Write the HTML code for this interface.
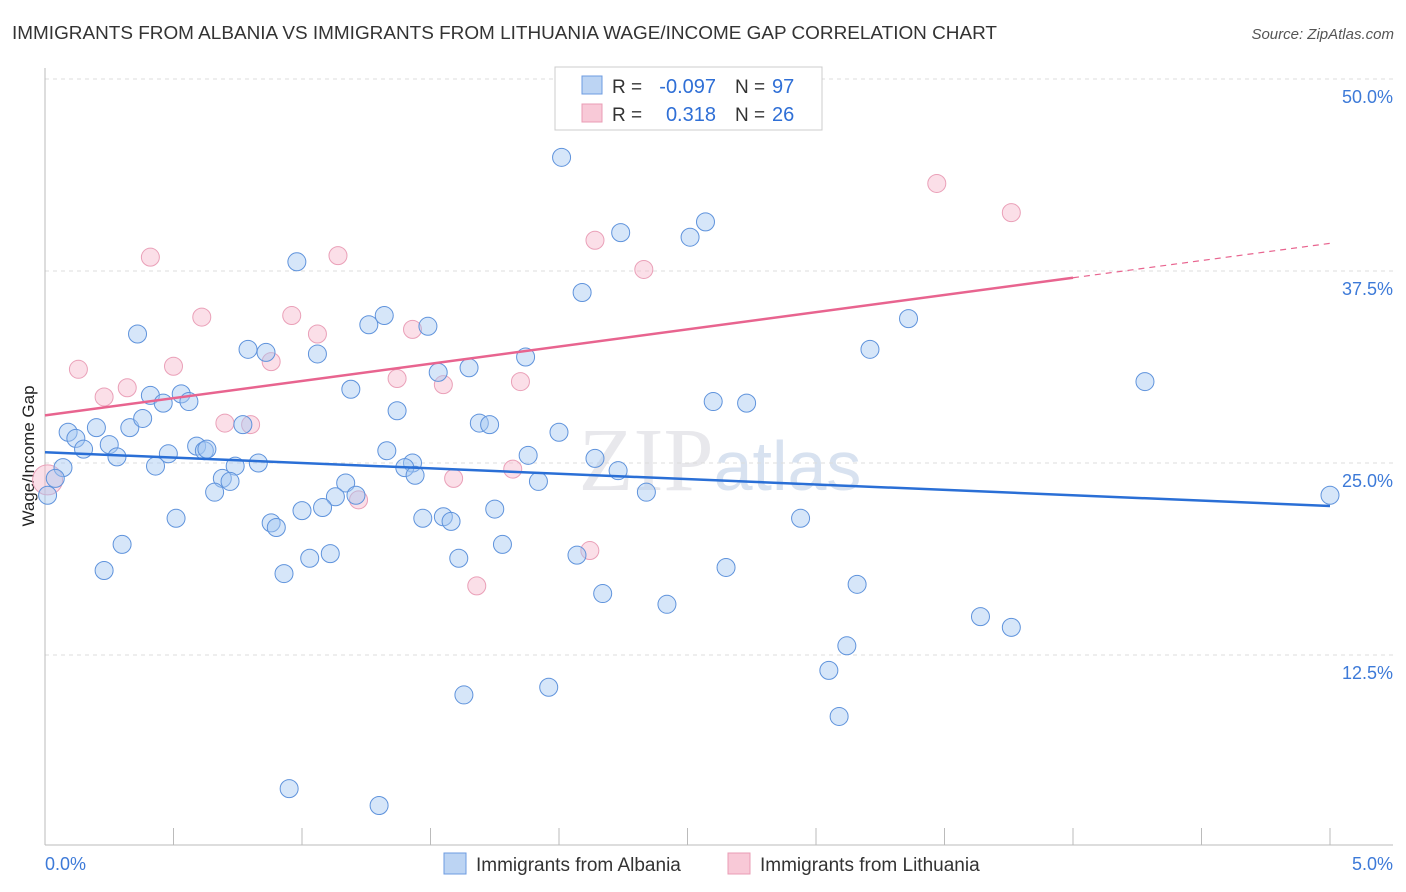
<!DOCTYPE html>
<html><head><meta charset="utf-8"><style>
body{margin:0;background:#fff;font-family:"Liberation Sans",sans-serif}
</style></head><body>
<svg id="chart" width="1406" height="892" style="display:block">
<text x="12" y="39" font-size="18" fill="#333" textLength="985" lengthAdjust="spacingAndGlyphs">IMMIGRANTS FROM ALBANIA VS IMMIGRANTS FROM LITHUANIA WAGE/INCOME GAP CORRELATION CHART</text>
<text x="1394" y="39" font-size="15" fill="#555" font-style="italic" text-anchor="end">Source: ZipAtlas.com</text>
<text x="720" y="490" font-size="90" fill="#e8e8ec" text-anchor="middle" font-family="Liberation Serif,serif">ZIP<tspan fill="#d8e2f0" font-family="Liberation Sans,sans-serif" font-size="70">atlas</tspan></text>
<text transform="translate(34,456) rotate(-90)" font-size="17" fill="#222" text-anchor="middle">Wage/Income Gap</text>
<g id="grid"></g><g id="marks"></g>
<g>
<rect x="555" y="67" width="267" height="63" fill="#fff" stroke="#ccc"/>
<rect x="582" y="76" width="20" height="18" fill="#bcd4f3" stroke="#6d9be0"/>
<rect x="582" y="104" width="20" height="18" fill="#f8c9d7" stroke="#ea9cb4"/>
<text x="612" y="93" font-size="19" fill="#333">R =</text>
<text x="716" y="93" font-size="20" fill="#2f6fd6" text-anchor="end">-0.097</text>
<text x="735" y="93" font-size="19" fill="#333">N =</text>
<text x="772" y="93" font-size="20" fill="#2f6fd6">97</text>
<text x="612" y="121" font-size="19" fill="#333">R =</text>
<text x="716" y="121" font-size="20" fill="#2f6fd6" text-anchor="end">0.318</text>
<text x="735" y="121" font-size="19" fill="#333">N =</text>
<text x="772" y="121" font-size="20" fill="#2f6fd6">26</text>
</g>
<g>
<rect x="444" y="853" width="22" height="21" fill="#bcd4f3" stroke="#6d9be0"/>
<text x="476" y="871" font-size="19" fill="#333">Immigrants from Albania</text>
<rect x="728" y="853" width="22" height="21" fill="#f8c9d7" stroke="#ea9cb4"/>
<text x="760" y="871" font-size="19" fill="#333">Immigrants from Lithuania</text>
</g>
</svg>
<script>
const yTicks=[12.5,25,37.5,50];
const yTickLabels=["12.5%","25.0%","37.5%","50.0%"];
const xTickLabels=["0.0%","5.0%"];
const albaniaX=[2.01,2.24,2.51,2.57,0.98,2.09,0.36,1.26,1.32,1.49,0.79,0.86,1.06,1.87,3.21,3.36,1.53,1.65,1.19,0.41,0.53,0.46,0.56,1.37,1.69,1.73,2.60,2.73,4.28,0.09,0.12,0.20,0.33,0.38,0.15,0.25,0.28,0.48,0.59,0.62,0.63,0.77,0.74,0.83,0.43,1.33,1.43,1.40,1.44,2.00,1.88,2.14,2.23,1.92,0.07,0.04,0.01,0.69,0.72,0.66,1.17,1.13,1.21,1.08,1.00,1.75,0.51,0.88,0.90,1.47,1.55,1.58,2.34,2.94,5.00,0.30,0.23,0.93,1.03,1.11,1.78,1.61,2.07,2.65,3.16,2.17,2.42,3.12,3.05,3.64,3.76,1.63,1.96,3.09,0.95,1.30];
const albaniaY=[44.9,40.0,39.7,40.7,38.1,36.1,33.4,34.0,34.6,33.9,32.4,32.2,32.1,31.9,32.4,34.4,30.9,31.2,29.8,29.4,29.5,28.9,29.0,28.4,27.6,27.5,29.0,28.9,30.3,27.0,26.6,27.3,27.3,27.9,25.9,26.2,25.4,25.6,26.1,25.8,25.9,27.5,24.8,25.0,24.8,25.8,25.0,24.7,24.2,27.0,25.5,25.3,24.5,23.8,24.7,24.0,22.9,24.0,23.8,23.1,23.7,22.8,22.9,22.1,21.9,22.0,21.4,21.1,20.8,21.4,21.5,21.2,23.1,21.4,22.9,19.7,18.0,17.8,18.8,19.1,19.7,18.8,19.0,18.2,17.1,16.5,15.8,13.1,11.5,15.0,14.3,9.9,10.4,8.5,3.8,2.7];
const lithuaniaX=[0.01,0.41,1.14,0.61,0.96,1.06,1.43,2.14,2.33,3.47,3.76,0.13,0.50,0.23,0.32,0.88,1.37,1.55,1.85,0.70,0.80,1.59,1.82,1.22,2.12,1.68];
const lithuaniaY=[23.9,38.4,38.5,34.5,34.6,33.4,33.7,39.5,37.6,43.2,41.3,31.1,31.3,29.3,29.9,31.6,30.5,30.1,30.3,27.6,27.5,24.0,24.6,22.6,19.3,17.0];
const albaniaTrend=[25.7,22.2];
const lithuaniaTrend=[28.1,39.3];
const NS="http://www.w3.org/2000/svg";
const X=v=>45+v/5*1285, Y=v=>847-v/12.5*192;
function mk(t,a,p){const e=document.createElementNS(NS,t);for(const k in a)e.setAttribute(k,a[k]);p.appendChild(e);return e;}
const grid=document.getElementById('grid'),marks=document.getElementById('marks');
yTicks.forEach((t,i)=>{
 const l=mk('line',{x1:45,x2:1393,y1:Y(t),y2:Y(t),stroke:'#ddd','stroke-dasharray':'4,4'},grid);
 
 
 const tx=mk('text',{x:1393,y:Y(t)+24,'font-size':18,fill:'#3d7ad8','text-anchor':'end'},grid);
 tx.textContent=yTickLabels[i];
 
 
});
mk('line',{x1:45,x2:45,y1:68,y2:845,stroke:'#bbb'},grid);
mk('line',{x1:45,x2:1393,y1:845,y2:845,stroke:'#bbb'},grid);
for(let i=0;i<=10;i++){const x=X(i*0.5);mk('line',{x1:x,x2:x,y1:828,y2:845,stroke:'#bbb'},grid);}
xTickLabels.forEach((s,i)=>{const t=mk('text',{x:i?1393:45,y:870,'font-size':18,fill:'#3d7ad8','text-anchor':i?'end':'start'},grid);t.textContent=s;
 
 });
lithuaniaX.forEach((v,i)=>{const c=mk('circle',{cx:X(v),cy:Y(lithuaniaY[i]),r:i==0?15:9,fill:'rgba(246,185,205,0.45)',stroke:'#eaa0b8','stroke-width':1},marks);
 
 });
albaniaX.forEach((v,i)=>{const c=mk('circle',{cx:X(v),cy:Y(albaniaY[i]),r:9,fill:'rgba(165,200,242,0.45)',stroke:'#5f93dc','stroke-width':1},marks);
 
 });
const bt=mk('line',{x1:X(0),y1:Y(albaniaTrend[0]),x2:X(5),y2:Y(albaniaTrend[1]),stroke:'#2a6fd6','stroke-width':2.5},marks);


const py=x=>lithuaniaTrend[0]+(lithuaniaTrend[1]-lithuaniaTrend[0])*x/5;
const pt=mk('line',{x1:X(0),y1:Y(py(0)),x2:X(4),y2:Y(py(4)),stroke:'#e8648f','stroke-width':2.5},marks);


const pd=mk('line',{x1:X(4),y1:Y(py(4)),x2:X(5),y2:Y(py(5)),stroke:'#e8648f','stroke-width':1.2,'stroke-dasharray':'6,5'},marks);


</script>
</body></html>
